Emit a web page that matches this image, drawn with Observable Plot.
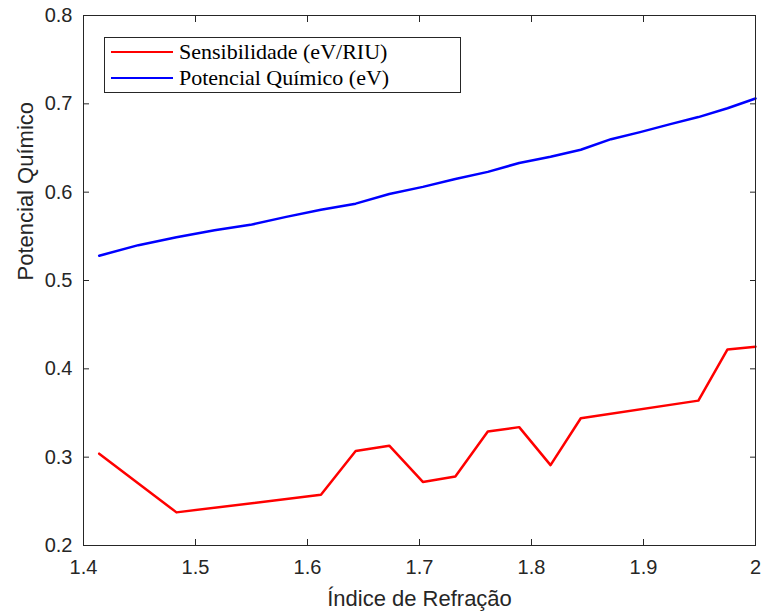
<!DOCTYPE html>
<html><head><meta charset="utf-8">
<script src="https://cdn.jsdelivr.net/npm/d3@7"></script>
<script src="https://cdn.jsdelivr.net/npm/@observablehq/plot@0.6"></script>
<style>
body{margin:0;background:#fff}
#wrap{position:relative;width:761px;height:611px}
#legend{position:absolute;left:104px;top:37px;width:355px;height:54px;border:1px solid #262626;background:#fff;font-family:"Liberation Serif","Times New Roman",serif;font-size:22px;color:#000}
.row{position:absolute;left:0;height:26px;display:flex;align-items:center}
.sw{display:inline-block;width:62px;height:0;border-top:2.5px solid;margin-left:6px;margin-right:6px}
</style>
</head><body><div id="wrap"></div>
<script>
// Refractive index (x) for the chemical potential series
const nPot = [1.414,1.449,1.483,1.517,1.549,1.581,1.612,1.643,1.673,1.703,1.732,1.761,1.789,1.817,1.844,1.871,1.897,1.924,1.949,1.975,2.0];
const potencial = [0.528,0.540,0.549,0.557,0.563,0.572,0.580,0.587,0.598,0.606,0.615,0.623,0.633,0.640,0.648,0.660,0.668,0.677,0.685,0.695,0.706];
// Refractive index (x) for the sensitivity series
const nSens = [1.414,1.483,1.612,1.643,1.673,1.703,1.732,1.761,1.789,1.817,1.844,1.949,1.975,2.0];
const sensibilidade = [0.304,0.2375,0.2575,0.307,0.313,0.272,0.278,0.329,0.334,0.291,0.344,0.364,0.422,0.425];
const xTicks = [1.4,1.5,1.6,1.7,1.8,1.9,2];
const yTicks = [0.2,0.3,0.4,0.5,0.6,0.7,0.8];
const seriesNames = ["Sensibilidade (eV/RIU)","Potencial Químico (eV)"];
const seriesColors = ["#ff0000","#0000ff"];
const xTitle = "Índice de Refração";
const yTitle = "Potencial Químico";

const potData = nPot.map((n,i)=>({n, v: potencial[i]}));
const sensData = nSens.map((n,i)=>({n, v: sensibilidade[i]}));
const fmt = d => String(d);
const axisColor = "#262626";

const chart = Plot.plot({
  width: 761, height: 611,
  marginLeft: 83, marginRight: 6, marginTop: 15, marginBottom: 66,
  style: {fontFamily: "'Liberation Sans', Arial, sans-serif", fontSize: "20px", color: axisColor, background: "#fff", overflow: "visible"},
  x: {domain: [1.4, 2]},
  y: {domain: [0.2, 0.8]},
  marks: [
    Plot.line(sensData, {x: "n", y: "v", stroke: seriesColors[0], strokeWidth: 2.5}),
    Plot.line(potData, {x: "n", y: "v", stroke: seriesColors[1], strokeWidth: 2.5}),
    Plot.frame({stroke: axisColor, strokeWidth: 1}),
    Plot.axisX({ticks: xTicks, tickSize: 0, tickPadding: 14, tickFormat: fmt, label: null, fontSize: 20}),
    Plot.axisY({ticks: yTicks, tickSize: 0, tickPadding: 11, tickFormat: fmt, label: null, fontSize: 20}),
    Plot.axisX({ticks: xTicks, anchor: "bottom", tickSize: -6, tickFormat: () => "", label: null}),
    Plot.axisX({ticks: xTicks, anchor: "top", tickSize: -6, tickFormat: () => "", label: null}),
    Plot.axisY({ticks: yTicks, anchor: "left", tickSize: -6, tickFormat: () => "", label: null}),
    Plot.axisY({ticks: yTicks, anchor: "right", tickSize: -6, tickFormat: () => "", label: null}),
    Plot.text([xTitle], {frameAnchor: "bottom", dy: 53, text: d => d, fontSize: 22, fill: axisColor, lineAnchor: "middle"}),
    Plot.text([yTitle], {frameAnchor: "left", dx: -58, rotate: -90, text: d => d, fontSize: 22, fill: axisColor, lineAnchor: "middle"})
  ]
});
const wrap = document.getElementById("wrap");
wrap.appendChild(chart);

const legend = document.createElement("div");
legend.id = "legend";
seriesNames.forEach((name, i) => {
  const row = document.createElement("div");
  row.className = "row";
  row.style.top = (i === 0 ? 1 : 27) + "px";
  const sw = document.createElement("span");
  sw.className = "sw";
  sw.style.borderTopColor = seriesColors[i];
  const t = document.createElement("span");
  t.textContent = name;
  row.appendChild(sw); row.appendChild(t);
  legend.appendChild(row);
});
wrap.appendChild(legend);
</script>
</body></html>
